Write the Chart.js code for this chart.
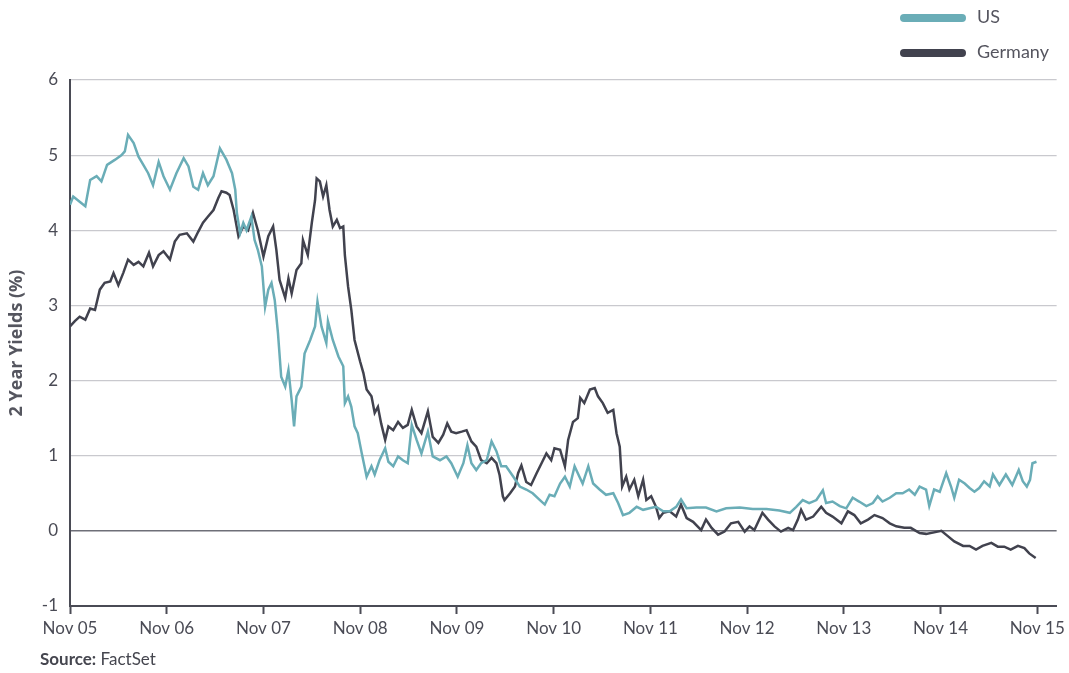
<!DOCTYPE html>
<html>
<head>
<meta charset="utf-8">
<script src="https://cdn.jsdelivr.net/npm/chart.js@4"></script>
<style>
  body { margin: 0; background: #fff; font-family: Lato, "Open Sans", sans-serif; }
  #wrap { position: relative; width: 1069px; height: 673px; }
  .key { position: absolute; left: 900px; font-size: 18px; color: #55555f; }
  .key span { display: inline-block; width: 66px; height: 8px; border-radius: 4px; vertical-align: middle; margin-right: 11px; }
  #source { position: absolute; left: 40px; top: 648px; font-size: 17px; color: #45464f; }
</style>
</head>
<body>
<div id="wrap">
  <canvas id="yieldChart" width="1069" height="673"></canvas>
  <div class="key" style="top:5px"><span style="background:#6aadb7"></span>US</div>
  <div class="key" style="top:40px"><span style="background:#41424e"></span>Germany</div>
  <div id="source"><b>Source:</b> FactSet</div>
</div>
<script>
// months since Nov 2005
const tickLabels = ['Nov 05', 'Nov 06', 'Nov 07', 'Nov 08', 'Nov 09', 'Nov 10', 'Nov 11', 'Nov 12', 'Nov 13', 'Nov 14', 'Nov 15'];

const usMonths = [0, 0.4, 1.2, 1.9, 2.5, 3.3, 3.9, 4.6, 5.6, 6.4, 6.8, 7.2, 7.9, 8.5, 9.1, 9.7, 10.3, 11.0, 11.6, 12.4,
  13.2, 14.1, 14.7, 15.3, 15.9, 16.5, 17.1, 17.8, 18.6, 19.4, 20.1, 20.5, 20.7, 21.1, 21.5, 21.9, 22.5, 22.9, 23.3, 23.8,
  24.2, 24.6, 25.0, 25.4, 25.8, 26.2, 26.7, 27.1, 27.5, 27.8, 28.1, 28.7, 29.1, 29.8, 30.4, 30.7, 31.2, 31.8, 32.0, 32.6,
  33.3, 33.9, 34.1, 34.5, 34.9, 35.3, 35.7, 36.2, 36.8, 37.4, 37.8, 38.4, 39.1, 39.5, 40.1, 40.7, 41.3, 41.9, 42.4, 43.0,
  43.6, 44.4, 45.0, 45.9, 46.7, 47.3, 48.1, 48.8, 49.3, 49.8, 50.4, 51.0, 51.7, 52.3, 52.9, 53.5, 54.1, 55.0, 55.8, 56.6,
  57.4, 58.3, 58.9, 59.5, 60.1, 60.8, 61.4, 62.0, 62.6, 63.2, 63.6, 64.3, 64.9, 65.7, 66.5, 67.4, 68.0, 68.6, 69.4, 70.3,
  71.1, 71.9, 72.7, 73.6, 74.4, 75.2, 75.8, 76.5, 77.7, 78.9, 80.2, 81.4, 83.1, 84.7, 86.4, 88.0, 89.3, 90.1, 90.9, 91.7,
  92.6, 93.4, 93.8, 94.6, 95.5, 96.3, 97.1, 97.9, 98.8, 99.6, 100.2, 100.8, 101.7, 102.5, 103.3, 104.1, 104.8, 105.4, 106.2, 106.6,
  107.2, 107.9, 108.7, 109.3, 109.7, 110.3, 111.0, 111.6, 112.2, 112.8, 113.4, 114.1, 114.5, 115.3, 116.1, 116.9, 117.7, 118.2, 118.7, 119.1,
  119.4, 119.9];
const usYields = [4.34, 4.45, 4.38, 4.32, 4.67, 4.72, 4.65, 4.87, 4.94, 5.0, 5.05, 5.27, 5.16, 4.98, 4.87, 4.76, 4.6, 4.91, 4.72, 4.54,
  4.76, 4.96, 4.85, 4.58, 4.54, 4.76, 4.6, 4.72, 5.09, 4.94, 4.76, 4.54, 4.23, 3.96, 4.1, 4.0, 4.18, 3.87, 3.74, 3.52,
  2.98, 3.21, 3.3, 3.07, 2.63, 2.05, 1.92, 2.14, 1.74, 1.39, 1.79, 1.92, 2.36, 2.54, 2.72, 3.05, 2.72, 2.5, 2.79, 2.54,
  2.32, 2.19, 1.70, 1.79, 1.65, 1.39, 1.3, 1.03, 0.72, 0.86, 0.75, 0.94, 1.1, 0.92, 0.86, 0.99, 0.94, 0.9, 1.41, 1.21,
  1.03, 1.32, 0.99, 0.94, 0.99, 0.9, 0.72, 0.9, 1.14, 0.9, 0.81, 0.9, 0.94, 1.19, 1.06, 0.86, 0.86, 0.72, 0.59, 0.55,
  0.50, 0.41, 0.35, 0.48, 0.46, 0.63, 0.72, 0.59, 0.86, 0.72, 0.63, 0.86, 0.63, 0.55, 0.48, 0.5, 0.37, 0.21, 0.24, 0.32,
  0.28, 0.30, 0.32, 0.26, 0.26, 0.32, 0.42, 0.30, 0.31, 0.31, 0.26, 0.30, 0.31, 0.29, 0.29, 0.27, 0.24, 0.32, 0.41, 0.37,
  0.41, 0.54, 0.37, 0.39, 0.33, 0.30, 0.44, 0.39, 0.33, 0.37, 0.46, 0.39, 0.44, 0.50, 0.50, 0.55, 0.48, 0.59, 0.55, 0.33,
  0.55, 0.52, 0.77, 0.59, 0.44, 0.68, 0.63, 0.57, 0.52, 0.57, 0.66, 0.59, 0.75, 0.61, 0.75, 0.61, 0.81, 0.66, 0.59, 0.68,
  0.9, 0.92];

const deMonths = [0, 0.6, 1.2, 1.9, 2.5, 3.1, 3.7, 4.3, 5.0, 5.4, 6.0, 6.6, 7.2, 7.9, 8.5, 9.1, 9.8, 10.3, 11.0, 11.6,
  12.4, 13.0, 13.6, 14.5, 15.3, 15.9, 16.5, 17.1, 17.8, 18.4, 18.8, 19.4, 19.8, 20.3, 20.9, 21.5, 22.1, 22.7, 23.3, 24.0,
  24.6, 25.2, 25.6, 26.0, 26.7, 27.1, 27.5, 28.1, 28.7, 28.9, 29.5, 30.0, 30.4, 30.6, 31.0, 31.4, 31.8, 32.2, 32.6, 33.1,
  33.5, 33.9, 34.1, 34.5, 34.9, 35.3, 36.0, 36.4, 36.8, 37.4, 37.8, 38.2, 38.6, 39.1, 39.5, 40.1, 40.7, 41.3, 41.9, 42.4,
  43.0, 43.6, 44.4, 45.0, 45.7, 46.3, 46.8, 47.3, 47.9, 48.6, 49.2, 49.8, 50.4, 51.0, 51.7, 52.3, 52.9, 53.3, 53.7, 53.9,
  54.6, 55.2, 55.6, 56.0, 56.6, 57.2, 57.9, 58.5, 59.1, 59.7, 60.1, 60.8, 61.4, 61.8, 62.4, 63.0, 63.3, 63.8, 64.5, 65.1,
  65.5, 66.1, 66.7, 67.4, 67.8, 68.2, 68.5, 69.0, 69.4, 70.0, 70.5, 71.1, 71.5, 72.1, 72.7, 73.1, 73.6, 74.4, 75.2, 75.8,
  76.5, 77.3, 78.3, 78.9, 79.6, 80.4, 81.2, 82.0, 82.9, 83.7, 84.3, 84.9, 85.9, 86.6, 87.4, 88.2, 89.1, 89.7, 90.3, 90.7,
  91.3, 92.2, 93.2, 93.8, 94.6, 95.7, 96.5, 97.3, 98.1, 99.0, 99.8, 100.8, 101.7, 102.5, 103.5, 104.3, 105.4, 106.2, 107.2, 108.1,
  108.9, 109.7, 110.8, 111.6, 112.4, 113.2, 114.3, 115.1, 115.9, 116.7, 117.6, 118.4, 119.0, 119.8];
const deYields = [2.72, 2.79, 2.85, 2.81, 2.96, 2.94, 3.21, 3.30, 3.32, 3.43, 3.27, 3.43, 3.61, 3.54, 3.58, 3.52, 3.70, 3.52, 3.67, 3.72,
  3.61, 3.85, 3.94, 3.96, 3.85, 3.98, 4.10, 4.18, 4.27, 4.43, 4.52, 4.50, 4.47, 4.27, 3.92, 4.05, 4.0, 4.23, 4.0, 3.65,
  3.92, 4.05, 3.74, 3.34, 3.10, 3.36, 3.16, 3.47, 3.56, 3.87, 3.67, 4.10, 4.40, 4.69, 4.65, 4.45, 4.60, 4.27, 4.05, 4.14,
  4.03, 4.05, 3.67, 3.25, 2.94, 2.54, 2.25, 2.10, 1.88, 1.79, 1.57, 1.65, 1.43, 1.21, 1.39, 1.34, 1.45, 1.37, 1.41, 1.61,
  1.39, 1.30, 1.59, 1.25, 1.17, 1.28, 1.43, 1.32, 1.30, 1.32, 1.34, 1.19, 1.12, 0.94, 0.90, 0.97, 0.90, 0.74, 0.46, 0.41,
  0.50, 0.59, 0.77, 0.87, 0.65, 0.61, 0.77, 0.90, 1.03, 0.94, 1.10, 1.08, 0.86, 1.21, 1.45, 1.50, 1.77, 1.70, 1.88, 1.90,
  1.79, 1.70, 1.57, 1.61, 1.30, 1.12, 0.59, 0.72, 0.55, 0.68, 0.46, 0.68, 0.41, 0.46, 0.32, 0.17, 0.24, 0.26, 0.19, 0.35,
  0.17, 0.12, 0.01, 0.15, 0.04, -0.05, -0.01, 0.10, 0.12, -0.01, 0.06, 0.01, 0.24, 0.15, 0.06, -0.01, 0.04, 0.01, 0.15, 0.28,
  0.15, 0.19, 0.32, 0.24, 0.19, 0.10, 0.26, 0.21, 0.10, 0.15, 0.21, 0.17, 0.10, 0.06, 0.04, 0.04, -0.03, -0.04, -0.02, 0.0,
  -0.07, -0.14, -0.20, -0.20, -0.25, -0.20, -0.16, -0.21, -0.21, -0.25, -0.20, -0.23, -0.30, -0.36];

const toPoints = (xs, ys) => xs.map((m, i) => ({ x: m, y: ys[i] }));

const ctx = document.getElementById('yieldChart');
new Chart(ctx, {
  type: 'line',
  data: {
    datasets: [
      { label: 'US', data: toPoints(usMonths, usYields), borderColor: '#6aadb7', borderWidth: 2.5, pointRadius: 0, tension: 0 },
      { label: 'Germany', data: toPoints(deMonths, deYields), borderColor: '#41424e', borderWidth: 2.5, pointRadius: 0, tension: 0 }
    ]
  },
  options: {
    responsive: false,
    animation: false,
    layout: { padding: { top: 80, right: 12, bottom: 0, left: 0 } },
    plugins: { legend: { display: false }, tooltip: { enabled: false } },
    scales: {
      x: {
        type: 'linear',
        min: 0,
        max: 122.4,
        afterBuildTicks: s => { s.ticks = tickLabels.map((_, i) => ({ value: i * 12 })); },
        afterFit: s => { s.height = 67; },
        ticks: {
          callback: v => tickLabels[Math.round(v / 12)],
          color: '#4a4b55', font: { family: 'Lato', size: 17 }, padding: 4, maxRotation: 0, autoSkip: false
        },
        grid: { drawOnChartArea: false, drawTicks: true, tickLength: 8, tickColor: '#4a4b55', tickWidth: 2 },
        border: { color: '#4a4b55', width: 2 }
      },
      y: {
        min: -1,
        max: 6,
        afterFit: s => { s.width = 70; },
        ticks: { stepSize: 1, color: '#4a4b55', font: { family: 'Lato', size: 17 }, padding: 12 },
        grid: {
          drawTicks: false,
          color: c => (c.tick && c.tick.value === 0) ? '#6e6f78' : '#c9c9ce',
          lineWidth: c => (c.tick && c.tick.value === 0) ? 1.5 : 1.2
        },
        border: { color: '#4a4b55', width: 2 },
        title: { display: true, text: '2 Year Yields (%)', color: '#55565f', font: { family: 'Open Sans', size: 18, weight: 'bold' }, padding: { top: 6, bottom: 0 } }
      }
    }
  }
});
</script>
</body>
</html>
